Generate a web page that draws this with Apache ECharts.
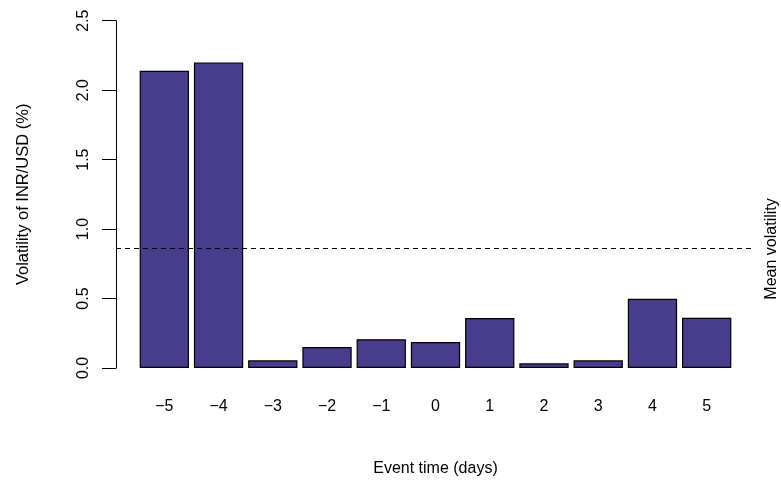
<!DOCTYPE html>
<html><head><meta charset="utf-8">
<script src="https://cdn.jsdelivr.net/npm/echarts@6/dist/echarts.min.js"></script>
<style>html,body{margin:0;padding:0;background:#fff}#c{width:781px;height:482px}</style>
</head><body><div id="c"></div>
<script>
const eventDays = [-5, -4, -3, -2, -1, 0, 1, 2, 3, 4, 5];
const volatility = [2.14, 2.20, 0.055, 0.151, 0.207, 0.187, 0.36, 0.034, 0.055, 0.499, 0.362];
const meanVolatility = 0.857;
const yTickStep = 0.5;
const yMax = 2.5;
const xTitle = 'Event time (days)';
const yTitle = 'Volatility of INR/USD (%)';
const meanLabel = 'Mean volatility';

const FONT = '"Liberation Sans", Arial, Helvetica, sans-serif';
const xHalf = 5 + 0.98 / 1.1; // R barplot extent (space 0.1, 4% padding)

const chart = echarts.init(document.getElementById('c'), null, {renderer: 'canvas'});
chart.setOption({
  animation: false,
  backgroundColor: '#fff',
  textStyle: {fontFamily: FONT},
  grid: {left: 116, right: 26, top: 20.7, bottom: 114},
  xAxis: {
    type: 'value', min: -xHalf, max: xHalf,
    name: xTitle, nameLocation: 'middle', nameGap: 93,
    nameTextStyle: {fontSize: 16, color: '#000', fontFamily: FONT},
    axisLine: {show: false, onZero: false}, axisTick: {show: false}, splitLine: {show: false},
    axisLabel: {
      customValues: eventDays, margin: 31, fontSize: 16, color: '#000', fontFamily: FONT,
      formatter: v => v < 0 ? '\u2212' + Math.abs(v) : String(v)
    }
  },
  yAxis: {
    type: 'value', min: 0, max: yMax, interval: yTickStep,
    name: yTitle, nameLocation: 'middle', nameGap: 84, nameRotate: 90,
    nameTextStyle: {fontSize: 16.5, color: '#000', fontFamily: FONT},
    axisLine: {show: true, onZero: false, lineStyle: {color: '#000', width: 1}},
    axisTick: {show: true, length: 14, lineStyle: {color: '#000', width: 1}},
    splitLine: {show: false},
    axisLabel: {
      rotate: 90, margin: 24, fontSize: 16, color: '#000', fontFamily: FONT,
      formatter: v => v.toFixed(1)
    }
  },
  series: [{
    type: 'bar',
    data: eventDays.map((d, i) => [d, volatility[i]]),
    barWidth: 49.3,
    itemStyle: {color: '#483D8B', borderColor: '#000', borderWidth: 1.2},
    markLine: {
      silent: true, symbol: 'none',
      label: {show: false},
      lineStyle: {color: '#000', width: 1, type: [5, 4]},
      data: [{yAxis: meanVolatility}]
    }
  }]
});

const my = chart.convertToPixel({yAxisIndex: 0}, meanVolatility);
const mx = chart.convertToPixel({xAxisIndex: 0}, xHalf) + 17;
chart.setOption({
  graphic: [{
    type: 'text', x: mx, y: my, rotation: Math.PI / 2,
    style: {text: meanLabel, fontSize: 16, fontFamily: FONT, fill: '#000', align: 'center', verticalAlign: 'middle'}
  }]
});
</script>
</body></html>
